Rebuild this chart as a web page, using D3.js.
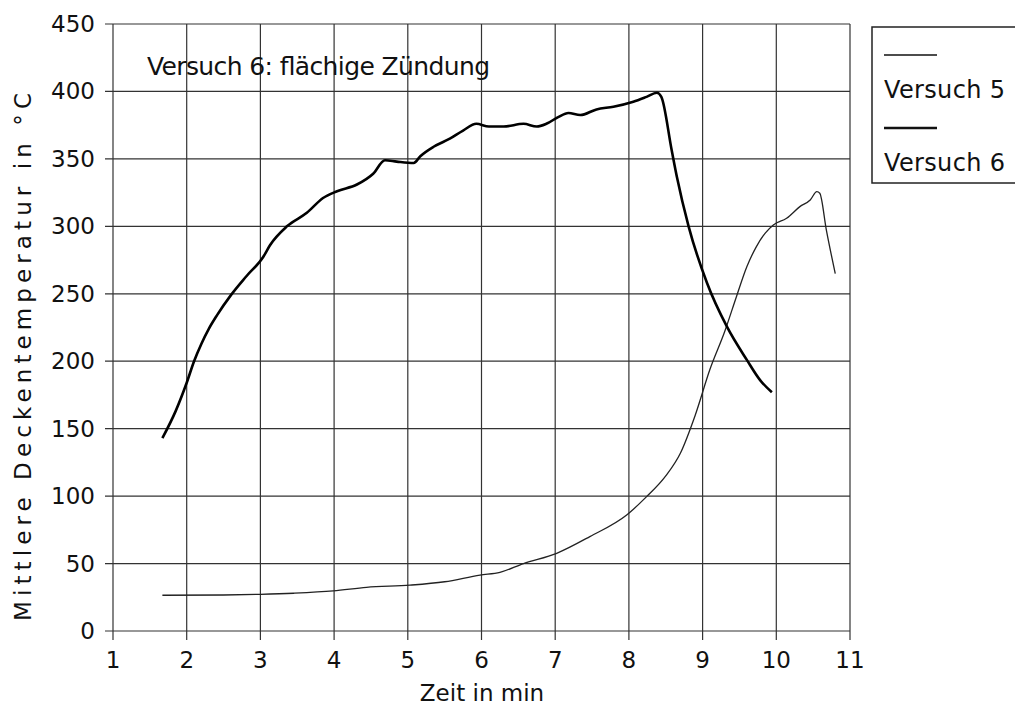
<!DOCTYPE html>
<html>
<head>
<meta charset="utf-8">
<script src="https://cdn.jsdelivr.net/npm/d3@7"></script>
<style>
  body { margin: 0; background: #fff; }
  svg text { font-family: "DejaVu Sans", sans-serif; fill: #111; }
</style>
</head>
<body>
<div id="chart"></div>
<script>
// data
var xTicks = [1, 2, 3, 4, 5, 6, 7, 8, 9, 10, 11];
var yTicks = [0, 50, 100, 150, 200, 250, 300, 350, 400, 450];

// Versuch 5 (thin line)
var v5Time = [1.67, 2.5, 3.0, 3.45, 3.99, 4.44, 5.03, 5.5, 5.98, 6.25, 6.57, 7.02, 7.47, 7.97, 8.24, 8.5, 8.7, 8.9, 9.1, 9.3, 9.46, 9.6, 9.73, 9.85, 9.96, 10.14, 10.32, 10.46, 10.55, 10.59, 10.68, 10.8];
var v5Temp = [26.5, 26.7, 27.2, 28, 29.7, 32.4, 34, 36.5, 41.5, 43.5, 50, 57.6, 70, 86, 99.6, 115, 132, 160, 194, 222, 248, 270, 285, 295, 301, 306, 314.6, 319.5, 325.7, 324.5, 297, 265];

// Versuch 6 (thick line)
var v6Time = [1.67, 1.85, 2.0, 2.1, 2.2, 2.3, 2.41, 2.6, 2.81, 3.04, 3.13, 3.36, 3.63, 3.85, 4.04, 4.31, 4.53, 4.69, 4.85, 5.08, 5.17, 5.35, 5.57, 5.75, 5.93, 6.1, 6.3, 6.57, 6.75, 6.88, 7.04, 7.18, 7.34, 7.56, 7.79, 8.06, 8.24, 8.38, 8.44, 8.58, 8.65, 8.81, 9.06, 9.33, 9.6, 9.78, 9.94];
var v6Temp = [143, 163, 184, 200, 213, 224, 234, 249, 263, 277.5, 286, 300, 310, 321, 326, 331, 339, 349, 348, 347, 352, 359, 365, 371, 376, 374, 374, 376, 374, 376, 381, 384, 382.5, 386.7, 388.7, 392.4, 396, 399, 396, 356.6, 337, 300, 258, 225.6, 201, 186, 177];

var seriesNames = ['Versuch 5', 'Versuch 6'];
var annotation = 'Versuch 6: flächige Zündung';

var width = 1015, height = 708;
var margin = {top: 24, right: 165, bottom: 77, left: 113};
var plotW = width - margin.left - margin.right,
    plotH = height - margin.top - margin.bottom;

var x = d3.scaleLinear().domain([1, 11]).range([0, plotW]);
var y = d3.scaleLinear().domain([0, 450]).range([plotH, 0]);

var svg = d3.select('#chart').append('svg')
    .attr('width', width)
    .attr('height', height);

var g = svg.append('g')
    .attr('transform', 'translate(' + margin.left + ',' + margin.top + ')');

// grid lines with little ticks outside the frame
g.append('g').selectAll('line')
    .data(yTicks)
  .enter().append('line')
    .attr('x1', -8).attr('x2', plotW)
    .attr('y1', function(d) { return y(d); })
    .attr('y2', function(d) { return y(d); })
    .attr('stroke', '#333').attr('stroke-width', 1.2);

g.append('g').selectAll('line')
    .data(xTicks)
  .enter().append('line')
    .attr('y1', 0).attr('y2', plotH + 9)
    .attr('x1', function(d) { return x(d); })
    .attr('x2', function(d) { return x(d); })
    .attr('stroke', '#333').attr('stroke-width', 1.2);

// tick labels
g.append('g').selectAll('text')
    .data(yTicks)
  .enter().append('text')
    .attr('x', -18)
    .attr('y', function(d) { return y(d) + 8; })
    .attr('text-anchor', 'end')
    .style('font-size', '23px')
    .text(function(d) { return d; });

g.append('g').selectAll('text')
    .data(xTicks)
  .enter().append('text')
    .attr('x', function(d) { return x(d); })
    .attr('y', plotH + 37)
    .attr('text-anchor', 'middle')
    .style('font-size', '23px')
    .text(function(d) { return d; });

// axis titles
svg.append('text')
    .attr('x', 482).attr('y', 701)
    .attr('text-anchor', 'middle')
    .style('font-size', '23px')
    .text('Zeit in min');

svg.append('text')
    .attr('transform', 'translate(31,357) rotate(-90)')
    .attr('text-anchor', 'middle')
    .attr('textLength', 528)
    .attr('lengthAdjust', 'spacing')
    .style('font-size', '23px')
    .text('Mittlere Deckentemperatur in °C');

// annotation
svg.append('text')
    .attr('x', 147).attr('y', 75)
    .attr('textLength', 343)
    .attr('lengthAdjust', 'spacing')
    .style('font-size', '25px')
    .text(annotation);

// curves
var line = d3.line()
    .curve(d3.curveMonotoneX)
    .x(function(d) { return x(d[0]); })
    .y(function(d) { return y(d[1]); });

var v5 = d3.zip(v5Time, v5Temp),
    v6 = d3.zip(v6Time, v6Temp);

g.append('path')
    .datum(v5)
    .attr('d', line)
    .attr('fill', 'none')
    .attr('stroke', '#222')
    .attr('stroke-width', 1.3);

g.append('path')
    .datum(v6)
    .attr('d', line)
    .attr('fill', 'none')
    .attr('stroke', '#000')
    .attr('stroke-width', 2.6)
    .attr('stroke-linejoin', 'round');

// legend
var legend = svg.append('g');
legend.append('rect')
    .attr('x', 872).attr('y', 27)
    .attr('width', 160).attr('height', 156)
    .attr('fill', 'none')
    .attr('stroke', '#222').attr('stroke-width', 1.5);

var legendY = [55, 128],
    legendWidth = [1.3, 2.6];
seriesNames.forEach(function(name, i) {
    legend.append('line')
        .attr('x1', 884).attr('x2', 937)
        .attr('y1', legendY[i]).attr('y2', legendY[i])
        .attr('stroke', '#111')
        .attr('stroke-width', legendWidth[i]);
    legend.append('text')
        .attr('x', 884).attr('y', legendY[i] + 43)
        .attr('textLength', 121)
        .attr('lengthAdjust', 'spacing')
        .style('font-size', '24px')
        .text(name);
});
</script>
</body>
</html>
